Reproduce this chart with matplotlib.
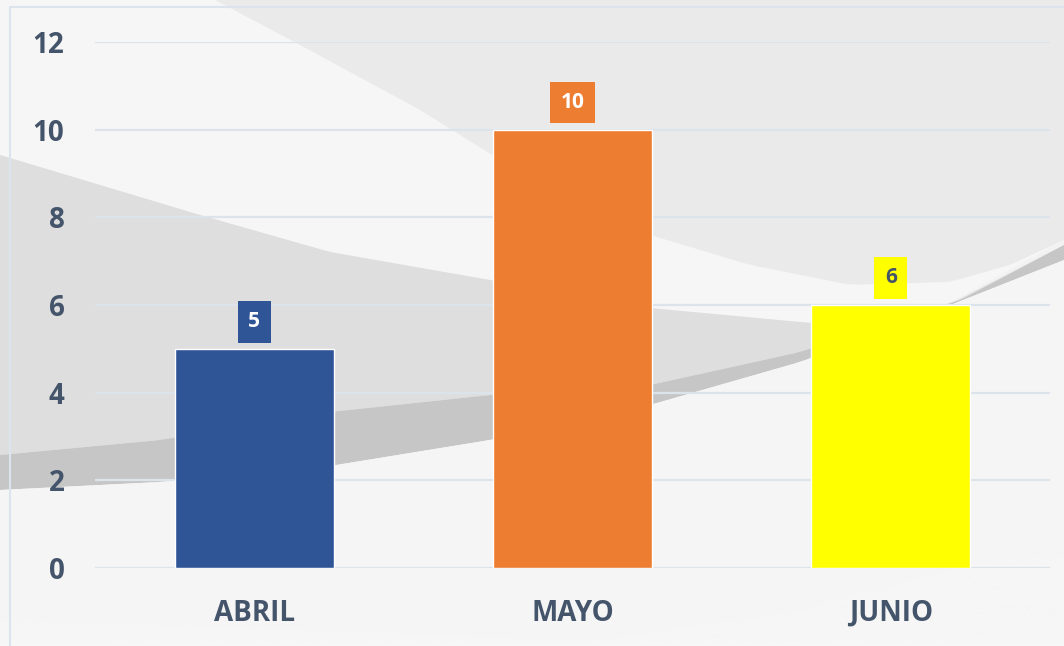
import matplotlib.pyplot as plt
import numpy as np
from matplotlib.patches import Polygon

# chart data
months = ["ABRIL", "MAYO", "JUNIO"]
values = [5, 10, 6]
bar_colors = ["#2F5597", "#ED7D31", "#FFFF00"]
label_text_colors = ["white", "white", "#44546A"]
y_ticks = [0, 2, 4, 6, 8, 10, 12]

W, H = 1064, 646
fig = plt.figure(figsize=(W / 100, H / 100), dpi=100)

# decorative background (pixel coords, y down)
bg = fig.add_axes([0, 0, 1, 1], zorder=-10)
bg.set_xlim(0, W)
bg.set_ylim(H, 0)
bg.axis("off")
grad = np.linspace(0.935, 0.965, 256).reshape(-1, 1)
bg.imshow(grad, cmap="gray", vmin=0, vmax=1, extent=[0, W, H, 0], aspect="auto")


def curve(pts, n=80):
    # piecewise linear path through the given points
    pts = np.array(pts, dtype=float)
    t = np.linspace(0, 1, len(pts))
    tt = np.linspace(0, 1, n)
    return np.column_stack([np.interp(tt, t, pts[:, 0]), np.interp(tt, t, pts[:, 1])])


# light grey area above the big arc
arc = curve([(215, 0), (300, 45), (420, 110), (500, 160), (580, 205), (650, 235),
             (750, 265), (850, 285), (950, 282), (1010, 265), (1064, 240)])
bg.add_patch(Polygon(np.vstack([[(0, 0)], arc, [(1064, 0)]]), closed=True,
                     fc="#eaeaea", ec="none"))
# whiter belt below the arc
band_top = curve([(0, 155), (100, 185), (200, 215), (330, 252), (490, 280),
                  (650, 308), (800, 322), (900, 330)])
bg.add_patch(Polygon(np.vstack([[(0, 0)], [(215, 0)], arc, [(1064, 240)],
                                band_top[::-1]]),
                     closed=True, fc="#f6f6f6", ec="none"))
# grey band on left
band_bot = curve([(0, 455), (160, 440), (330, 412), (490, 395), (650, 385),
                  (800, 352), (960, 300), (1064, 245)])
bg.add_patch(Polygon(np.vstack([band_top, band_bot[::-1]]), closed=True,
                     fc="#dedede", ec="none"))
# darker swoosh
sw_bot = curve([(0, 490), (160, 482), (330, 466), (490, 440), (650, 405),
                (800, 362), (900, 325), (1064, 260)])
bg.add_patch(Polygon(np.vstack([band_bot, sw_bot[::-1]]), closed=True,
                     fc="#c6c6c6", ec="none"))
# white area below swoosh
bg.add_patch(Polygon(np.vstack([sw_bot, [(1064, 540)],
                                curve([(1064, 540), (800, 610), (600, 640), (0, 620)])]),
                     closed=True, fc="#f5f5f5", ec="none"))
# chart frame
bg.plot([10, 10, W], [H, 7, 7], color="#dce3ec", lw=1.5)

ax = fig.add_axes([95 / W, 1 - 568 / H, (1050 - 95) / W, (568 - 42) / H])
ax.set_facecolor("none")
x = np.arange(len(months))
bars = ax.bar(x, values, width=0.5, color=bar_colors, edgecolor="white", linewidth=1,
              zorder=3)

for xi, v, c, tc in zip(x, values, bar_colors, label_text_colors):
    ax.annotate(str(v), (xi, v), xytext=(0, 12), textcoords="offset points",
                ha="center", va="bottom", fontsize=15, fontweight="bold",
                family="Open Sans", color=tc, zorder=5,
                bbox=dict(boxstyle="square,pad=0.5", fc=c, ec="none"))

ax.set_xlim(-0.5, 2.5)
ax.set_ylim(0, 12)
ax.set_yticks(y_ticks)
ax.set_xticks(x)
ax.set_xticklabels(months)
ax.grid(axis="y", color="#dde3eb", lw=1.6, zorder=0)
for s in ax.spines.values():
    s.set_visible(False)
ax.tick_params(length=0, labelcolor="#44546A", labelsize=20)
ax.tick_params(axis="y", pad=22)
ax.tick_params(axis="x", pad=22)
for lab in ax.get_xticklabels() + ax.get_yticklabels():
    lab.set_fontweight("bold")
    lab.set_family("Open Sans")

fig.savefig("out.png", dpi=100)
